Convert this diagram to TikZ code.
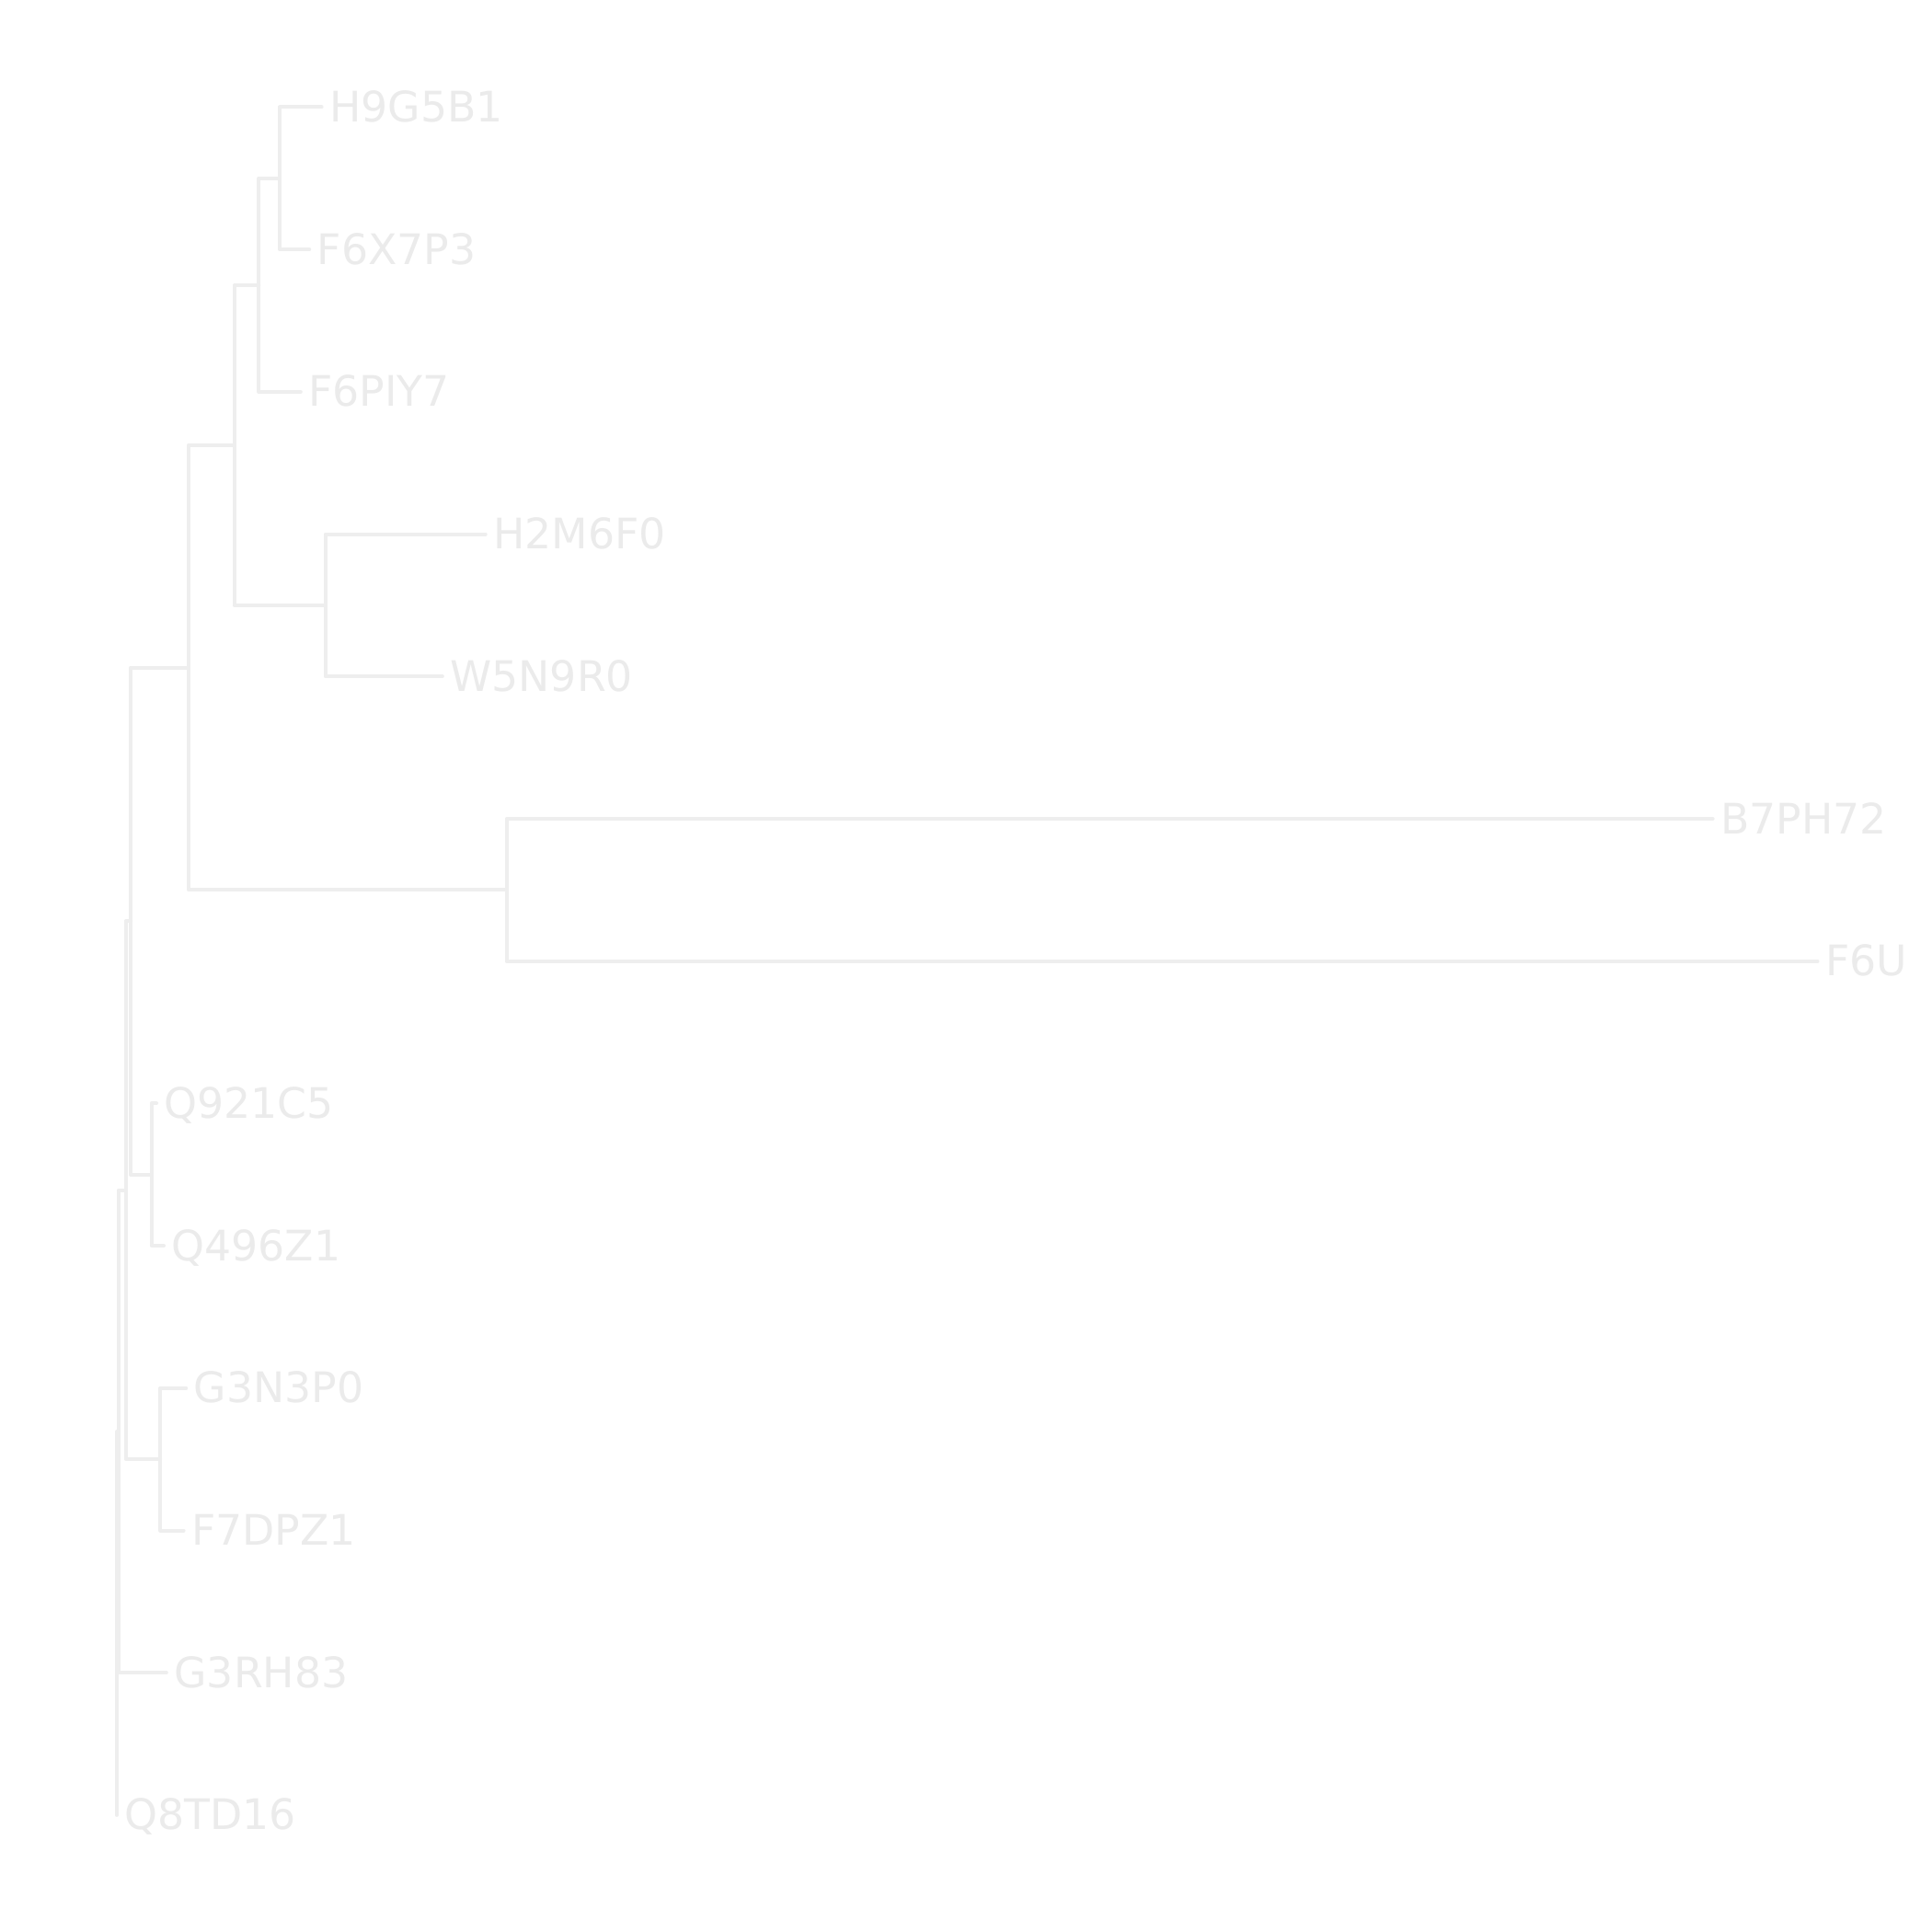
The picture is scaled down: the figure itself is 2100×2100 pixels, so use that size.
\documentclass[tikz,border=0pt]{standalone}
\usepackage{fontspec}
\setmainfont{DejaVu Sans}
\definecolor{branch}{HTML}{EEEEEE}
\definecolor{labelc}{HTML}{EBEBEB}
\tikzset{
  branchline/.style={draw=branch, line width=0.04cm, line cap=round, line join=round},
  leaflabel/.style={anchor=base west, inner sep=0pt, text=labelc, font=\fontsize{13pt}{15pt}\selectfont}
}
\begin{document}
\begin{tikzpicture}[x=0.01cm, y=-0.01cm]
\useasboundingbox[fill=white] (0,0) rectangle (2100,2100);
% leaf ends
\coordinate (l1) at (349.6,116.5);
\coordinate (l2) at (336.2,271.2);
\coordinate (l3) at (326.8,425.9);
\coordinate (l4) at (527.7,580.6);
\coordinate (l5) at (480.8,735.3);
\coordinate (l6) at (1861.6,890.0);
\coordinate (l7) at (1975.5,1044.7);
\coordinate (l8) at (170.0,1199.4);
\coordinate (l9) at (178.0,1354.1);
\coordinate (l10) at (202.2,1508.8);
\coordinate (l11) at (199.6,1663.5);
\coordinate (l12) at (180.8,1818.2);
\coordinate (l13) at (127.0,1972.9);
% internal nodes
\coordinate (nA) at (304.0,193.85);
\coordinate (nB) at (281.3,309.9);
\coordinate (nD) at (353.6,657.95);
\coordinate (nC) at (254.5,483.9);
\coordinate (nF) at (550.5,967.35);
\coordinate (nE) at (204.9,725.6);
\coordinate (nH) at (164.7,1276.75);
\coordinate (nG) at (142.0,1001.2);
\coordinate (nJ) at (174.1,1586.15);
\coordinate (nI) at (136.6,1293.7);
\coordinate (nK) at (128.5,1556.0);
\coordinate (nR) at (127.0,1764.5);
% clades
\path[branchline] (l1) -- (l1 -| nA) -- (l2 -| nA) -- (l2);
\path[branchline] (nA) -- (nA -| nB) -- (l3 -| nB) -- (l3);
\path[branchline] (l4) -- (l4 -| nD) -- (l5 -| nD) -- (l5);
\path[branchline] (nB) -- (nB -| nC) -- (nD -| nC) -- (nD);
\path[branchline] (l6) -- (l6 -| nF) -- (l7 -| nF) -- (l7);
\path[branchline] (nC) -- (nC -| nE) -- (nF -| nE) -- (nF);
\path[branchline] (l8) -- (l8 -| nH) -- (l9 -| nH) -- (l9);
\path[branchline] (nE) -- (nE -| nG) -- (nH -| nG) -- (nH);
\path[branchline] (l10) -- (l10 -| nJ) -- (l11 -| nJ) -- (l11);
\path[branchline] (nG) -- (nG -| nI) -- (nJ -| nI) -- (nJ);
\path[branchline] (nI) -- (nI -| nK) -- (l12 -| nK) -- (l12);
\path[branchline] (nK) -- (nK -| nR) -- (l13 -| nR) -- (l13);
% labels
\begin{scope}
\clip (0,0) rectangle (2080,2100);
\node[leaflabel] (t1) at ([shift={(8,16)}]l1) {H9G5B1};
\node[leaflabel] (t2) at ([shift={(8,16)}]l2) {F6X7P3};
\node[leaflabel] (t3) at ([shift={(8,16)}]l3) {F6PIY7};
\node[leaflabel] (t4) at ([shift={(8,16)}]l4) {H2M6F0};
\node[leaflabel] (t5) at ([shift={(8,16)}]l5) {W5N9R0};
\node[leaflabel] (t6) at ([shift={(8,16)}]l6) {B7PH72};
\node[leaflabel] (t7) at ([shift={(8,16)}]l7) {F6U};
\node[leaflabel] (t8) at ([shift={(8,16)}]l8) {Q921C5};
\node[leaflabel] (t9) at ([shift={(8,16)}]l9) {Q496Z1};
\node[leaflabel] (t10) at ([shift={(8,16)}]l10) {G3N3P0};
\node[leaflabel] (t11) at ([shift={(8,16)}]l11) {F7DPZ1};
\node[leaflabel] (t12) at ([shift={(8,16)}]l12) {G3RH83};
\node[leaflabel] (t13) at ([shift={(8,16)}]l13) {Q8TD16};
\end{scope}
\end{tikzpicture}
\end{document}
